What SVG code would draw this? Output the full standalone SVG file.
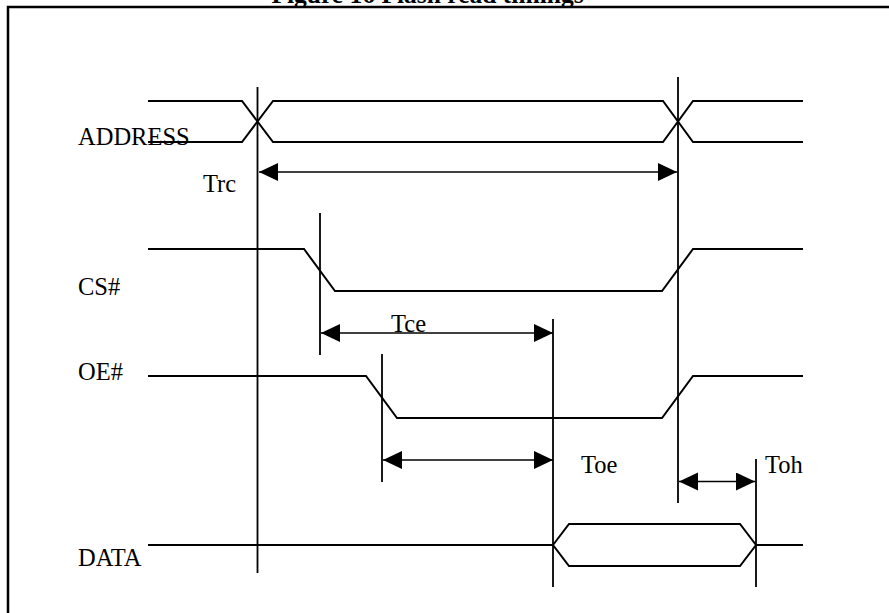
<svg xmlns="http://www.w3.org/2000/svg" width="889" height="613" viewBox="0 0 889 613">
<style>
.sig{fill:none;stroke:#000;stroke-width:2;stroke-linejoin:miter}
.mark{fill:none;stroke:#000;stroke-width:1.8}
.dim{fill:none;stroke:#000;stroke-width:1.6;marker-start:url(#ah);marker-end:url(#ah)}
.frame{fill:none;stroke:#000;stroke-width:2.5}
.lbl{font-family:"Liberation Serif","Times New Roman",serif;font-size:24.5px;fill:#000}
.title{font-family:"Liberation Serif","Times New Roman",serif;font-size:25.5px;font-weight:bold;fill:#000;text-anchor:middle}
</style>
<defs>
<marker id="ah" markerUnits="userSpaceOnUse" markerWidth="20" markerHeight="19" refX="19" refY="9" orient="auto-start-reverse" viewBox="0 0 20 19">
<path d="M0,0 L19,9 L0,18 Z" fill="#000"/>
</marker>
</defs>
<rect width="889" height="613" fill="#fff"/>
<text class="title" x="427.5" y="2.5">Figure 16 Flash read timings</text>
<path class="frame" d="M8,613 V7 H889"/>

<g id="address">
<text class="lbl" x="78" y="145">ADDRESS</text>
<path class="sig" d="M148,101 H242 L273,142 H663 L693,101 H803"/>
<path class="sig" d="M148,142 H242 L273,101 H663 L693,142 H803"/>
</g>

<g id="cs">
<text class="lbl" x="78" y="295">CS#</text>
<path class="sig" d="M148,249 H304 L335,291 H662 L693,249 H803"/>
</g>

<g id="oe">
<text class="lbl" x="78" y="380">OE#</text>
<path class="sig" d="M148,376 H366 L397,418 H662 L693,376 H803"/>
</g>

<g id="data">
<text class="lbl" x="78" y="566">DATA</text>
<path class="sig" d="M148,545 H553 M756,545 H803"/>
<path class="sig" d="M553,545 L569,524 H740 L756,545 L740,566 H569 Z"/>
</g>

<g id="connectors">
<line class="mark" x1="257.5" y1="87" x2="257.5" y2="573"/>
<line class="mark" x1="678" y1="77" x2="678" y2="503"/>
<line class="mark" x1="320" y1="213" x2="320" y2="355"/>
<line class="mark" x1="382" y1="354" x2="382" y2="482"/>
<line class="mark" x1="553" y1="319" x2="553" y2="587"/>
<line class="mark" x1="756" y1="459" x2="756" y2="587"/>
<line class="dim" x1="259" y1="172" x2="677" y2="172"/>
<line class="dim" x1="321" y1="333" x2="553" y2="333"/>
<line class="dim" x1="383" y1="460" x2="553" y2="460"/>
<line class="dim" x1="679" y1="481.5" x2="755" y2="481.5"/>
</g>

<g id="timing-labels">
<text class="lbl" x="203" y="192">Trc</text>
<text class="lbl" x="391" y="332">Tce</text>
<text class="lbl" x="581" y="473">Toe</text>
<text class="lbl" x="765" y="473">Toh</text>
</g>
</svg>
